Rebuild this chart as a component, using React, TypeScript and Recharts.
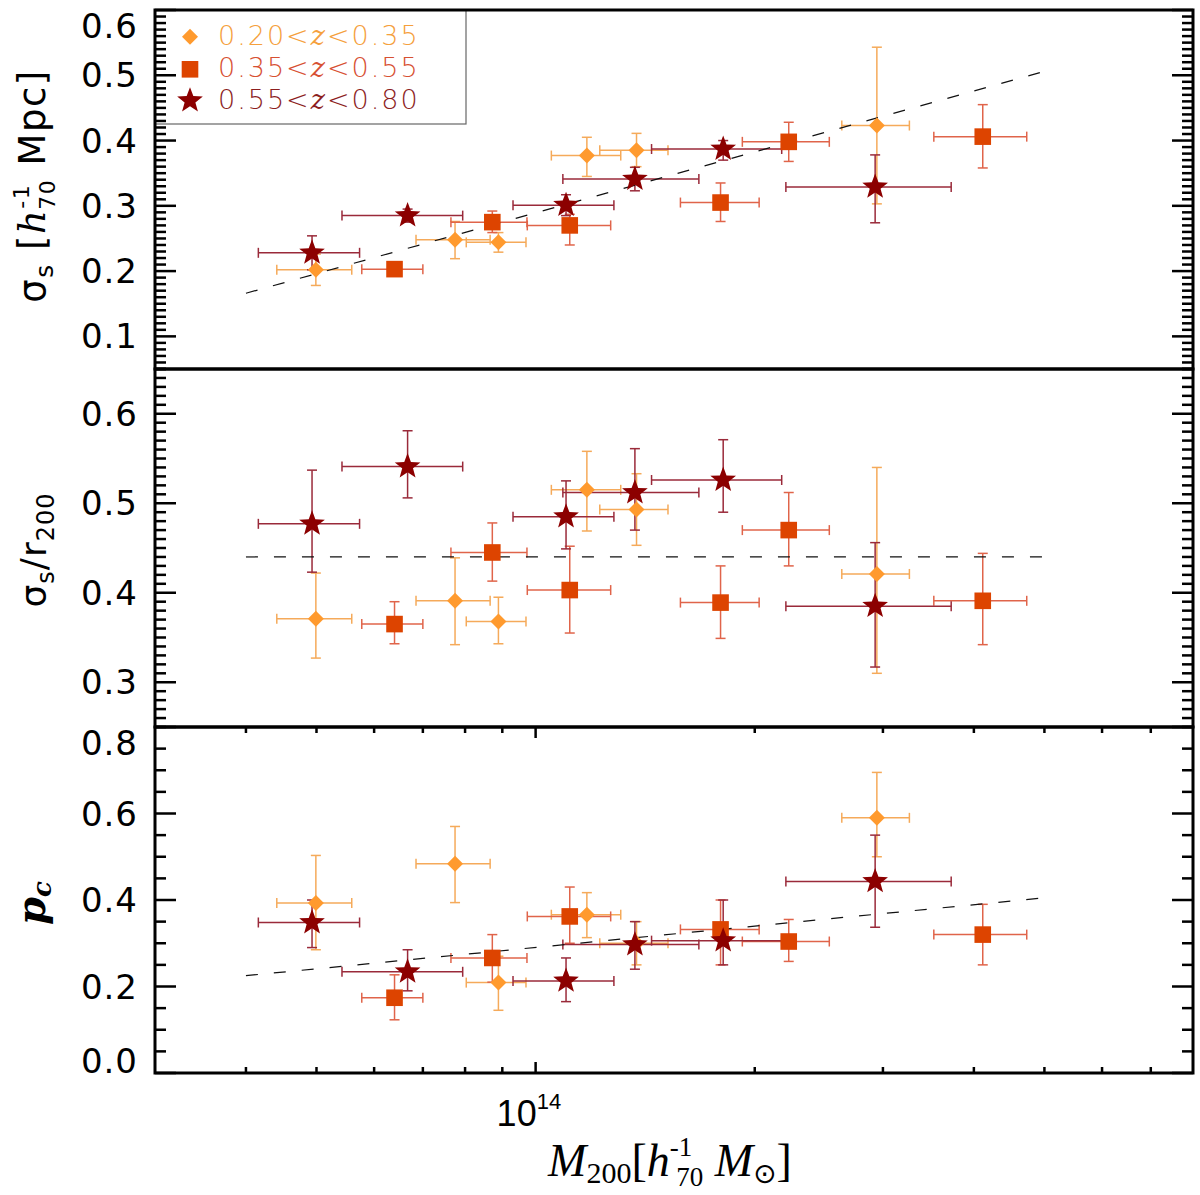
import React from 'react';
import {
  ScatterChart,
  Scatter,
  XAxis,
  YAxis,
  ErrorBar,
  ReferenceLine,
  ReferenceArea,
  Customized,
} from 'recharts';

// ---------- masses (units of 1e14 h70^-1 Msun) ----------
const massA = [0.499, 0.775, 0.889, 1.176, 1.376, 2.943];
const massALo = [0.441, 0.685, 0.803, 1.051, 1.225, 2.634];
const massAHi = [0.559, 0.866, 0.97, 1.309, 1.52, 3.262];

const massB = [0.64, 0.872, 1.114, 1.795, 2.227, 4.114];
const massBLo = [0.577, 0.765, 0.974, 1.581, 1.923, 3.524];
const massBHi = [0.7, 0.973, 1.268, 2.028, 2.532, 4.728];

const massC = [0.493, 0.667, 1.101, 1.369, 1.81, 2.927];
const massCLo = [0.416, 0.542, 0.931, 1.09, 1.443, 2.207];
const massCHi = [0.573, 0.794, 1.281, 1.676, 2.178, 3.723];

// ---------- panel 1: sigma_s ----------
const sigA = [0.202, 0.248, 0.244, 0.377, 0.385, 0.423];
const sigALo = [0.178, 0.219, 0.229, 0.345, 0.36, 0.303];
const sigAHi = [0.226, 0.276, 0.259, 0.405, 0.411, 0.543];
const sigB = [0.203, 0.275, 0.27, 0.305, 0.398, 0.406];
const sigBLo = [0.193, 0.259, 0.24, 0.276, 0.368, 0.358];
const sigBHi = [0.213, 0.292, 0.287, 0.335, 0.428, 0.455];
const sigC = [0.228, 0.285, 0.301, 0.341, 0.387, 0.329];
const sigCLo = [0.202, 0.275, 0.285, 0.323, 0.37, 0.274];
const sigCHi = [0.254, 0.295, 0.317, 0.359, 0.4, 0.378];

// ---------- panel 2: sigma_s / r200 ----------
const ratA = [0.371, 0.391, 0.368, 0.515, 0.493, 0.421];
const ratALo = [0.327, 0.342, 0.343, 0.469, 0.453, 0.31];
const ratAHi = [0.422, 0.439, 0.395, 0.558, 0.533, 0.54];
const ratB = [0.365, 0.445, 0.403, 0.389, 0.47, 0.391];
const ratBLo = [0.343, 0.413, 0.355, 0.349, 0.43, 0.342];
const ratBHi = [0.39, 0.478, 0.452, 0.43, 0.512, 0.444];
const ratC = [0.477, 0.541, 0.485, 0.512, 0.526, 0.385];
const ratCLo = [0.423, 0.506, 0.449, 0.47, 0.49, 0.317];
const ratCHi = [0.537, 0.581, 0.525, 0.561, 0.571, 0.456];

// ---------- panel 3: p_c ----------
const pcA = [0.393, 0.484, 0.209, 0.366, 0.3, 0.59];
const pcALo = [0.285, 0.394, 0.145, 0.313, 0.25, 0.5];
const pcAHi = [0.503, 0.57, 0.27, 0.417, 0.35, 0.695];
const pcB = [0.174, 0.266, 0.362, 0.332, 0.304, 0.32];
const pcBLo = [0.123, 0.21, 0.3, 0.25, 0.258, 0.25];
const pcBHi = [0.227, 0.32, 0.43, 0.4, 0.355, 0.39];
const pcC = [0.348, 0.234, 0.213, 0.297, 0.306, 0.443];
const pcCLo = [0.29, 0.19, 0.165, 0.24, 0.25, 0.337];
const pcCHi = [0.4, 0.285, 0.266, 0.35, 0.4, 0.55];

// ---------- fit lines ----------
const fitSigma = [
  { m: 0.4, v: 0.166 },
  { m: 5.0, v: 0.506 },
];
const fitRatio = [
  { m: 0.4, v: 0.44 },
  { m: 5.0, v: 0.44 },
];
const fitPc = [
  { m: 0.4, v: 0.225 },
  { m: 5.0, v: 0.405 },
];

// ---------- ticks / labels ----------
const xTicks = [0.4, 0.5, 0.6, 0.7, 0.8, 0.9, 1, 2, 3, 4, 5, 6, 7];
const xMajor = [1];
const yMajorSig = [0.1, 0.2, 0.3, 0.4, 0.5, 0.6];
const yMajorRat = [0.3, 0.4, 0.5, 0.6];
const yMajorPc = [0.0, 0.2, 0.4, 0.6, 0.8];
const legendLabels = ['0.20<', 'z', '<0.35', '0.35<', 'z', '<0.55', '0.55<', 'z', '<0.80'];

const minorTicks = (from: number, to: number, step: number) => {
  const out: number[] = [];
  const n = Math.round((to - from) / step);
  for (let i = 0; i <= n; i++) out.push(+(from + i * step).toFixed(3));
  return out;
};
const yTicksSig = minorTicks(0.05, 0.6, 0.01);
const yTicksRat = minorTicks(0.25, 0.65, 0.01);
const yTicksPc = minorTicks(0, 0.8, 0.05);

// ---------- colours ----------
const COL_A = '#FF9A2E';
const COL_B = '#DD4400';
const COL_C = '#8C0000';
const ERR_A = '#F5AA5A';
const ERR_B = '#E0644A';
const ERR_C = '#9A2A3A';

const PLOT_R = 1193;

const build = (
  m: number[], mLo: number[], mHi: number[],
  v: number[], vLo: number[], vHi: number[]
) =>
  m.map((mm, i) => ({
    m: mm,
    v: v[i],
    xErr: [mm - mLo[i], mHi[i] - mm],
    yErr: [v[i] - vLo[i], vHi[i] - v[i]],
  }));

const dSigA = build(massA, massALo, massAHi, sigA, sigALo, sigAHi);
const dSigB = build(massB, massBLo, massBHi, sigB, sigBLo, sigBHi);
const dSigC = build(massC, massCLo, massCHi, sigC, sigCLo, sigCHi);
const dRatA = build(massA, massALo, massAHi, ratA, ratALo, ratAHi);
const dRatB = build(massB, massBLo, massBHi, ratB, ratBLo, ratBHi);
const dRatC = build(massC, massCLo, massCHi, ratC, ratCLo, ratCHi);
const dPcA = build(massA, massALo, massAHi, pcA, pcALo, pcAHi);
const dPcB = build(massB, massBLo, massBHi, pcB, pcBLo, pcBHi);
const dPcC = build(massC, massCLo, massCHi, pcC, pcCLo, pcCHi);

// ---------- shapes ----------
const starPath = (cx: number, cy: number, R: number, r: number) => {
  let d = '';
  for (let i = 0; i < 10; i++) {
    const ang = -Math.PI / 2 + (i * Math.PI) / 5;
    const rad = i % 2 === 0 ? R : r;
    d += (i === 0 ? 'M' : 'L') + (cx + rad * Math.cos(ang)).toFixed(2) + ',' + (cy + rad * Math.sin(ang)).toFixed(2);
  }
  return d + 'Z';
};

const Diamond = ({ cx, cy, s = 8 }: any) => (
  <path d={`M${cx},${cy - s}L${cx + s},${cy}L${cx},${cy + s}L${cx - s},${cy}Z`} fill={COL_A} />
);
const Square = ({ cx, cy, s = 8.3 }: any) => (
  <rect x={cx - s} y={cy - s} width={2 * s} height={2 * s} fill={COL_B} />
);
const Star = ({ cx, cy, R = 13.5 }: any) => <path d={starPath(cx, cy, R, R * 0.42)} fill={COL_C} />;

// ---------- ticks ----------
const makeYTick = (majors: number[], plotTop: number, plotBottom: number) => (props: any) => {
  const { x, y, payload } = props;
  const val = payload.value;
  const isMajor = majors.some((mj) => Math.abs(mj - val) < 1e-6);
  const len = isMajor ? 21 : 11;
  const ly = Math.min(Math.max(y, plotTop + 16), plotBottom - 12);
  return (
    <g>
      <line x1={x} x2={x + len} y1={y} y2={y} stroke="#000" strokeWidth={2.5} />
      <line x1={PLOT_R} x2={PLOT_R - len} y1={y} y2={y} stroke="#000" strokeWidth={2.5} />
      {isMajor && (
        <text
          x={x - 17}
          y={ly}
          textAnchor="end"
          dominantBaseline="central"
          fontFamily="DejaVu Sans"
          fontSize={34}
          letterSpacing={1}
          fill="#000"
        >
          {val.toFixed(1)}
        </text>
      )}
    </g>
  );
};

const makeXTick = (plotTop: number, withLabel: boolean) => (props: any) => {
  const { x, y, payload } = props;
  const isMajor = xMajor.includes(payload.value);
  const len = isMajor ? 11 : 6;
  return (
    <g>
      <line x1={x} x2={x} y1={y} y2={y - len} stroke="#000" strokeWidth={2.5} />
      <line x1={x} x2={x} y1={plotTop} y2={plotTop + len} stroke="#000" strokeWidth={2.5} />
      {withLabel && isMajor && (
        <text x={x - 39} y={y + 53} fontFamily="Liberation Sans Narrow, Liberation Sans" fontSize={36} fill="#000">
          10
          <tspan fontSize={22} dy={-17}>
            14
          </tspan>
        </text>
      )}
    </g>
  );
};

const errStyle = (c: string) => ({ stroke: c, strokeWidth: 1.5, width: 5 });

const seriesBlock = (dA: any[], dB: any[], dC: any[]) => [
  <Scatter key="a" data={dA} isAnimationActive={false} shape={(p: any) => <Diamond cx={p.cx} cy={p.cy} />}>
    <ErrorBar dataKey="xErr" direction="x" {...errStyle(ERR_A)} />
    <ErrorBar dataKey="yErr" direction="y" {...errStyle(ERR_A)} />
  </Scatter>,
  <Scatter key="b" data={dB} isAnimationActive={false} shape={(p: any) => <Square cx={p.cx} cy={p.cy} />}>
    <ErrorBar dataKey="xErr" direction="x" {...errStyle(ERR_B)} />
    <ErrorBar dataKey="yErr" direction="y" {...errStyle(ERR_B)} />
  </Scatter>,
  <Scatter key="c" data={dC} isAnimationActive={false} shape={(p: any) => <Star cx={p.cx} cy={p.cy} />}>
    <ErrorBar dataKey="xErr" direction="x" {...errStyle(ERR_C)} />
    <ErrorBar dataKey="yErr" direction="y" {...errStyle(ERR_C)} />
  </Scatter>,
];

const fitLine = (pts: { m: number; v: number }[]) => (
  <ReferenceLine
    segment={pts.map((p) => ({ x: p.m, y: p.v }))}
    stroke="#111"
    strokeWidth={1.2}
    strokeDasharray="12 16"
    ifOverflow="visible"
  />
);

const border = (y0: number, y1: number) => (
  <ReferenceArea x1={0.3} x2={8} y1={y0} y2={y1} fill="none" fillOpacity={0} stroke="#000" strokeWidth={3} ifOverflow="visible" />
);

const LegendBox = () => {
  const rows = [
    { y: 36.7, col: '#F5A03C', mk: <Diamond cx={190} cy={36.7} s={8} />, t: legendLabels.slice(0, 3) },
    { y: 69.3, col: '#D75032', mk: <Square cx={190} cy={69.3} s={8.3} />, t: legendLabels.slice(3, 6) },
    { y: 100.7, col: '#8C1E1E', mk: <Star cx={190} cy={100.7} R={13.5} />, t: legendLabels.slice(6, 9) },
  ];
  return (
    <g>
      <rect x={155} y={10} width={311} height={114} fill="none" stroke="#666" strokeWidth={1.2} />
      {rows.map((r, i) => (
        <text
          key={i}
          x={218}
          y={r.y + 8}
          fontFamily="DejaVu Sans"
          fontWeight={200}
          fontSize={27}
          letterSpacing={2}
          fill={r.col}
        >
          {r.t[0]}
          <tspan fontFamily="DejaVu Serif" fontStyle="italic">
            {r.t[1]}
          </tspan>
          {r.t[2]}
        </text>
      ))}
      {rows.map((r, i) => (
        <g key={'m' + i}>{r.mk}</g>
      ))}
    </g>
  );
};

const TitleTop = () => (
  <text transform="translate(45,186) rotate(-90)" textAnchor="middle" fontFamily="DejaVu Sans" fontSize={37} letterSpacing={1.5} fill="#000">
    σ<tspan fontSize={25} dy={8}>s</tspan>
    <tspan dy={-8}> [</tspan>
    <tspan fontStyle="italic" fontFamily="DejaVu Serif">h</tspan>
    <tspan fontSize={22} dy={-16}>-1</tspan>
    <tspan fontSize={22} dx={-26} dy={26}>70</tspan>
    <tspan dy={-10}> Mpc]</tspan>
  </text>
);

const TitleMid = () => (
  <text transform="translate(46,184) rotate(-90)" textAnchor="middle" fontFamily="DejaVu Sans" fontSize={36} letterSpacing={1} fill="#000">
    σ<tspan fontSize={24} dy={8}>s</tspan>
    <tspan dy={-8}>/r</tspan>
    <tspan fontSize={24} dy={8}>200</tspan>
  </text>
);

const TitleBot = () => (
  <text transform="translate(45,179) rotate(-90)" textAnchor="middle" fontFamily="DejaVu Serif" fontStyle="italic" fontWeight="bold" fontSize={40} fill="#000">
    p<tspan fontSize={26} dy={6}>c</tspan>
  </text>
);

const TitleX = () => (
  <text x={670} y={452} textAnchor="middle" fontFamily="Liberation Serif" fontSize={46} fill="#000">
    <tspan fontStyle="italic">M</tspan>
    <tspan fontSize={30} dy={7}>200</tspan>
    <tspan dy={-7}>[</tspan>
    <tspan fontStyle="italic">h</tspan>
    <tspan fontSize={27} dy={-20}>-1</tspan>
    <tspan fontSize={27} dx={-16} dy={30}>70</tspan>
    <tspan dy={-10}> </tspan>
    <tspan fontStyle="italic">M</tspan>
    <tspan fontSize={28} dy={7} fontFamily="DejaVu Sans">⊙</tspan>
    <tspan dy={-7}>]</tspan>
  </text>
);

const commonX = (plotTop: number, withLabel: boolean, height: number) => (
  <XAxis
    type="number"
    dataKey="m"
    scale="log"
    domain={[0.3, 8]}
    allowDataOverflow
    ticks={xTicks}
    interval={0}
    tickSize={0}
    tickMargin={0}
    axisLine={false}
    tickLine={false}
    height={height}
    tick={makeXTick(plotTop, withLabel)}
  />
);

const commonY = (dom: [number, number], ticks: number[], majors: number[], top: number, bottom: number) => (
  <YAxis
    type="number"
    dataKey="v"
    domain={dom}
    allowDataOverflow
    ticks={ticks}
    interval={0}
    width={155}
    tickSize={0}
    tickMargin={0}
    axisLine={false}
    tickLine={false}
    tick={makeYTick(majors, top, bottom)}
  />
);

export default function App() {
  return (
    <div style={{ position: 'absolute', left: 0, top: 0, width: 1200, height: 1195, background: '#fff' }}>
      <div style={{ position: 'absolute', left: 0, top: 0 }}>
        <ScatterChart width={1200} height={372} margin={{ top: 10, right: 7, bottom: 3, left: 0 }}>
          {commonX(10, false, 0)}
          {commonY([0.05, 0.6], yTicksSig, yMajorSig, 10, 369)}
          {seriesBlock(dSigA, dSigB, dSigC)}
          {fitLine(fitSigma)}
          {border(0.05, 0.6)}
          <Customized component={LegendBox} />
          <Customized component={TitleTop} />
        </ScatterChart>
      </div>
      <div style={{ position: 'absolute', left: 0, top: 366 }}>
        <ScatterChart width={1200} height={364} margin={{ top: 3, right: 7, bottom: 3, left: 0 }}>
          {commonX(3, false, 0)}
          {commonY([0.25, 0.65], yTicksRat, yMajorRat, 3, 361)}
          {seriesBlock(dRatA, dRatB, dRatC)}
          {fitLine(fitRatio)}
          {border(0.25, 0.65)}
          <Customized component={TitleMid} />
        </ScatterChart>
      </div>
      <div style={{ position: 'absolute', left: 0, top: 724 }}>
        <ScatterChart width={1200} height={471} margin={{ top: 3, right: 7, bottom: 0, left: 0 }}>
          {commonX(3, true, 122)}
          {commonY([0, 0.8], yTicksPc, yMajorPc, 3, 349)}
          {seriesBlock(dPcA, dPcB, dPcC)}
          {fitLine(fitPc)}
          {border(0, 0.8)}
          <Customized component={TitleBot} />
          <Customized component={TitleX} />
        </ScatterChart>
      </div>
    </div>
  );
}
